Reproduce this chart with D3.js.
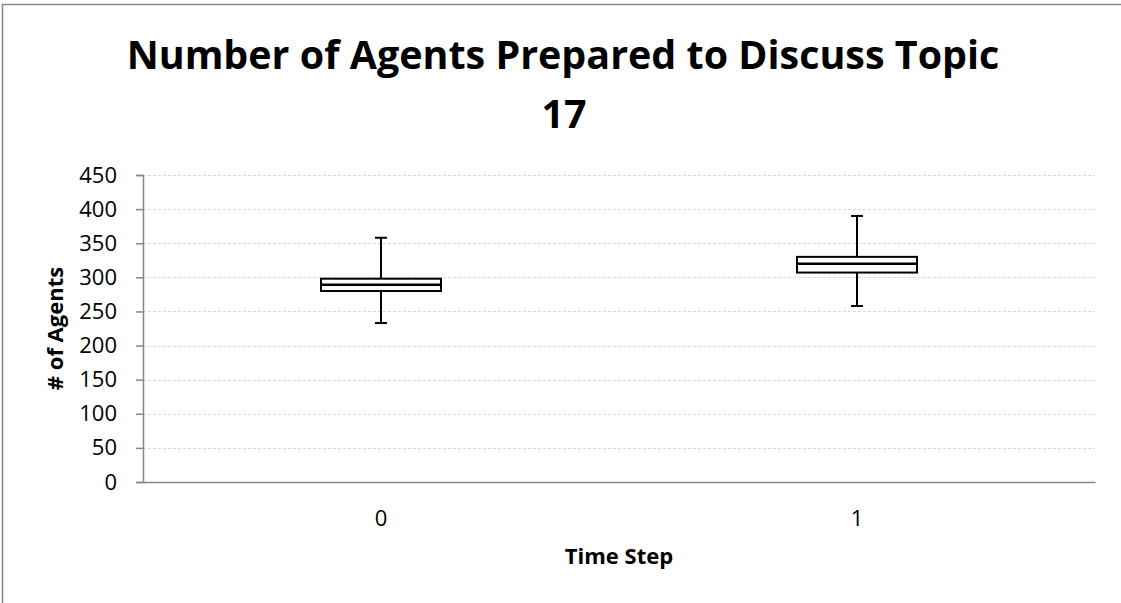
<!DOCTYPE html>
<html>
<head>
<meta charset="utf-8">
<script src="https://cdn.jsdelivr.net/npm/d3@7"></script>
<style>
  html, body { margin: 0; padding: 0; background: #fff; }
  svg { display: block; }
  text { font-family: "Open Sans", "Noto Sans", sans-serif; fill: #000; }
</style>
</head>
<body>
<svg id="chart" width="1121" height="603"></svg>
<script>
// Box-plot summary per time step
const categories = ["0", "1"];
const whiskerLow  = [233, 258];
const quartile1   = [280, 307];
const medians     = [289, 320];
const quartile3   = [298, 330];
const whiskerHigh = [358, 390];
const yTicks = [0, 50, 100, 150, 200, 250, 300, 350, 400, 450];

const titleLines = ["Number of Agents Prepared to Discuss Topic", "17"];
const xTitle = "Time Step";
const yTitle = "# of Agents";

const svg = d3.select("#chart");
const W = 1121, H = 603;
const plot = { left: 143, right: 1095, top: 175, bottom: 482 };
const labelSize = "22px";

// chart frame (runs past the right and bottom edges)
svg.append("rect")
  .attr("x", 2.5).attr("y", 4.5)
  .attr("width", W + 10).attr("height", H + 10)
  .attr("fill", "#fff").attr("stroke", "#868686").attr("stroke-width", 1.5);

const x = d3.scaleBand().domain(categories).range([plot.left, plot.right]);
const y = d3.scaleLinear().domain([0, 450]).range([plot.bottom, plot.top]);

// gridlines
svg.append("g").selectAll("line")
  .data(yTicks.filter(d => d > 0))
  .join("line")
  .attr("x1", plot.left).attr("x2", plot.right)
  .attr("y1", d => Math.round(y(d)) + 0.5).attr("y2", d => Math.round(y(d)) + 0.5)
  .attr("stroke", "#d9d9d9").attr("stroke-width", 1)
  .attr("stroke-dasharray", "3,2");

// y axis
const yAxis = svg.append("g")
  .attr("transform", `translate(${plot.left},0)`)
  .call(d3.axisLeft(y).tickValues(yTicks).tickSize(7).tickPadding(19).tickFormat(d3.format("d")));
yAxis.select(".domain").attr("stroke", "#868686").attr("stroke-width", 1.5);
yAxis.selectAll(".tick line").attr("stroke", "#868686").attr("stroke-width", 1.5);
yAxis.selectAll(".tick text")
  .style("font-family", "'Open Sans', sans-serif")
  .style("font-size", labelSize).attr("fill", "#000");

// x axis
const xAxis = svg.append("g")
  .attr("transform", `translate(0,${plot.bottom})`)
  .call(d3.axisBottom(x).tickSize(0).tickPadding(28));
xAxis.select(".domain").attr("stroke", "#868686").attr("stroke-width", 1.5);
xAxis.selectAll(".tick text")
  .style("font-family", "'Open Sans', sans-serif")
  .style("font-size", labelSize).attr("fill", "#000");

// boxes
const boxW = 120, capW = 12;
const g = svg.append("g");
categories.forEach((c, i) => {
  const cx = x(c) + x.bandwidth() / 2;
  // whisker stems
  g.append("line").attr("x1", cx).attr("x2", cx)
    .attr("y1", y(whiskerHigh[i])).attr("y2", y(quartile3[i]))
    .attr("stroke", "#000").attr("stroke-width", 2);
  g.append("line").attr("x1", cx).attr("x2", cx)
    .attr("y1", y(quartile1[i])).attr("y2", y(whiskerLow[i]))
    .attr("stroke", "#000").attr("stroke-width", 2);
  // caps
  [whiskerHigh[i], whiskerLow[i]].forEach(v => {
    g.append("line").attr("x1", cx - capW / 2).attr("x2", cx + capW / 2)
      .attr("y1", y(v)).attr("y2", y(v))
      .attr("stroke", "#000").attr("stroke-width", 2);
  });
  // box
  g.append("rect")
    .attr("x", cx - boxW / 2).attr("width", boxW)
    .attr("y", y(quartile3[i])).attr("height", y(quartile1[i]) - y(quartile3[i]))
    .attr("fill", "#fff").attr("stroke", "#000").attr("stroke-width", 2);
  // median
  g.append("line").attr("x1", cx - boxW / 2).attr("x2", cx + boxW / 2)
    .attr("y1", y(medians[i])).attr("y2", y(medians[i]))
    .attr("stroke", "#000").attr("stroke-width", 2.5);
});

// title, sized so the first line spans the width it needs
const titleG = svg.append("g");
const t1 = titleG.append("text")
  .attr("x", 563).attr("y", 69).attr("text-anchor", "middle")
  .style("font-weight", "bold").style("font-size", "36px")
  .text(titleLines[0]);
const targetW = 873;
const fs = 36 * targetW / t1.node().getComputedTextLength();
t1.style("font-size", fs + "px");
titleG.append("text")
  .attr("x", 564).attr("y", 128).attr("text-anchor", "middle")
  .style("font-weight", "bold").style("font-size", fs + "px")
  .text(titleLines[1]);

// axis titles
svg.append("text")
  .attr("x", (plot.left + plot.right) / 2).attr("y", 564)
  .attr("text-anchor", "middle")
  .style("font-weight", "bold").style("font-size", labelSize)
  .text(xTitle);
svg.append("text")
  .attr("transform", `translate(63,${(plot.top + plot.bottom) / 2}) rotate(-90)`)
  .attr("text-anchor", "middle")
  .style("font-weight", "bold").style("font-size", labelSize)
  .text(yTitle);
</script>
</body>
</html>
